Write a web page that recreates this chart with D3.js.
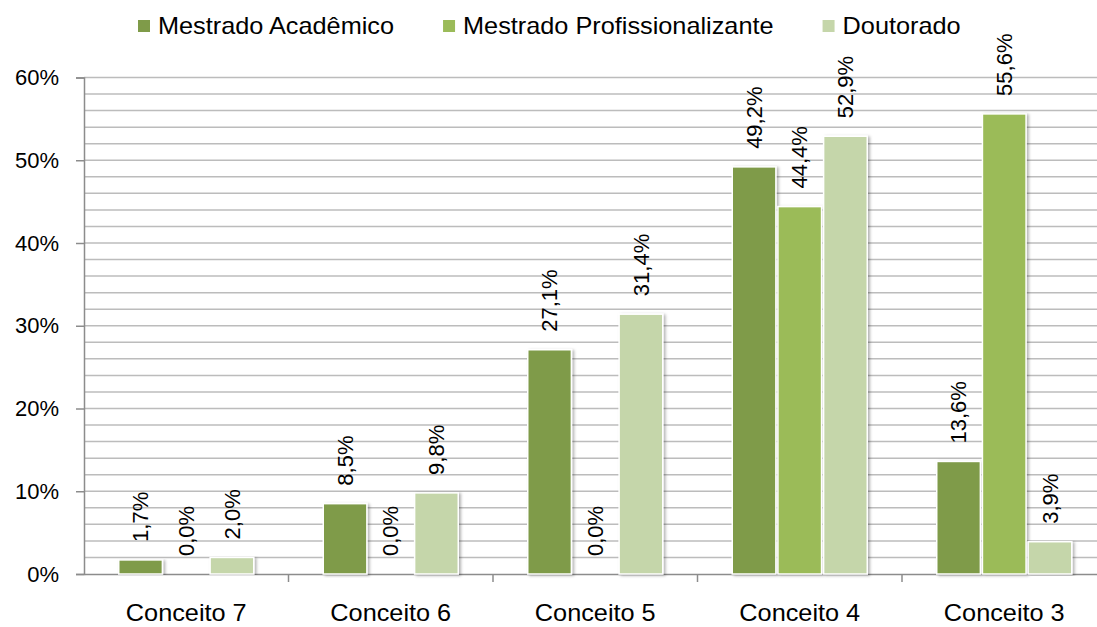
<!DOCTYPE html>
<html>
<head>
<meta charset="utf-8">
<script src="https://cdn.jsdelivr.net/npm/d3@7"></script>
<style>
  body { margin: 0; background: #fff; }
  text { font-family: "Liberation Sans", Arial, sans-serif; fill: #000; }
</style>
</head>
<body>
<div id="chart"></div>
<script>
// Data
var categories = ["Conceito 7", "Conceito 6", "Conceito 5", "Conceito 4", "Conceito 3"];
var seriesNames = ["Mestrado Acadêmico", "Mestrado Profissionalizante", "Doutorado"];
var mestradoAcademico = [1.7, 8.5, 27.1, 49.2, 13.6];
var mestradoProfissional = [0.0, 0.0, 0.0, 44.4, 55.6];
var doutorado = [2.0, 9.8, 31.4, 52.9, 3.9];
var yTicks = [0, 10, 20, 30, 40, 50, 60];

var seriesValues = [mestradoAcademico, mestradoProfissional, doutorado];
var colors = ["#7f9b49", "#9bbb59", "#c5d6aa"];

var width = 1097;
var height = 627;
var left = 84;
var catWidth = 204.5;
var yBottom = 574;
var yTop = 77.5;

var svg = d3.select("#chart")
    .append("svg")
    .attr("width", width)
    .attr("height", height);

// shadow for bars
var defs = svg.append("defs");
defs.append("filter")
    .attr("id", "shadow")
    .attr("x", "-20%").attr("y", "-5%")
    .attr("width", "140%").attr("height", "110%")
    .append("feDropShadow")
    .attr("dx", 2).attr("dy", 1)
    .attr("stdDeviation", 1.5)
    .attr("flood-color", "#000")
    .attr("flood-opacity", 0.3);

var scaleX = d3.scaleBand()
    .domain(categories)
    .range([left, left + catWidth * categories.length]);

var scaleY = d3.scaleLinear()
    .domain([0, 60])
    .range([yBottom, yTop]);

// inner scale for series inside a category
var groupWidth = 135;
var inner = d3.scaleBand()
    .domain(d3.range(seriesNames.length))
    .range([-groupWidth / 2, groupWidth / 2])
    .paddingInner(0.045);

// Gridlines every 2%
var gridVals = d3.range(2, 61, 2);
svg.append("g")
    .selectAll("line")
    .data(gridVals)
    .enter()
    .append("line")
    .attr("x1", left)
    .attr("x2", width)
    .attr("y1", function(d) { return scaleY(d); })
    .attr("y2", function(d) { return scaleY(d); })
    .attr("stroke", "#bcbcbc")
    .attr("stroke-width", 1.5);

// Y axis
var yAxis = d3.axisLeft(scaleY)
    .tickValues(yTicks)
    .tickSize(8)
    .tickPadding(17)
    .tickFormat(function(d) { return d + "%"; });

var yG = svg.append("g")
    .attr("transform", `translate(${left}, 0)`)
    .call(yAxis);
yG.select(".domain").attr("stroke", "#8c8c8c").attr("stroke-width", 1.5);
yG.selectAll(".tick line").attr("stroke", "#8c8c8c").attr("stroke-width", 1.5);
yG.selectAll(".tick text")
    .attr("font-size", "22px")
    .attr("font-family", "Liberation Sans, Arial, sans-serif")
    .attr("fill", "#000");

// X axis
var xAxis = d3.axisBottom(scaleX)
    .tickSize(0)
    .tickFormat("");

var xG = svg.append("g")
    .attr("transform", `translate(0, ${yBottom})`)
    .call(xAxis);
xG.select(".domain").attr("stroke", "#8c8c8c").attr("stroke-width", 1.5);

// category boundary ticks
xG.selectAll("line.sep")
    .data(categories.slice(1))
    .enter()
    .append("line")
    .attr("class", "sep")
    .attr("x1", function(d) { return scaleX(d); })
    .attr("x2", function(d) { return scaleX(d); })
    .attr("y1", 0)
    .attr("y2", 8)
    .attr("stroke", "#8c8c8c")
    .attr("stroke-width", 1.5);

// category labels
svg.append("g")
    .selectAll("text")
    .data(categories)
    .enter()
    .append("text")
    .attr("transform", function(d) {
        return `translate(${scaleX(d) + scaleX.bandwidth() / 2}, 621) scale(1.1, 1)`;
    })
    .attr("text-anchor", "middle")
    .attr("font-size", "23px")
    .text(function(d) { return d; });

// Bars
seriesValues.forEach(function(vals, s) {
    var g = svg.append("g").attr("class", "series" + s);

    g.selectAll("rect")
        .data(vals)
        .enter()
        .append("rect")
        .attr("x", function(d, i) {
            return scaleX(categories[i]) + scaleX.bandwidth() / 2 + inner(s);
        })
        .attr("y", function(d) { return scaleY(d); })
        .attr("width", inner.bandwidth())
        .attr("height", function(d) { return yBottom - scaleY(d); })
        .attr("fill", colors[s])
        .attr("stroke", "#fff")
        .attr("stroke-width", 1.5)
        .attr("filter", function(d) { return d > 0 ? "url(#shadow)" : null; });

    g.selectAll("text")
        .data(vals)
        .enter()
        .append("text")
        .attr("transform", function(d, i) {
            var cx = scaleX(categories[i]) + scaleX.bandwidth() / 2 + inner(s) + inner.bandwidth() / 2;
            return `translate(${cx}, ${scaleY(d) - 18}) rotate(-90)`;
        })
        .attr("dy", "0.35em")
        .attr("font-size", "22px")
        .text(function(d) { return d.toFixed(1).replace(".", ",") + "%"; });
});

// Legend
var legend = svg.append("g").attr("class", "legend");
var lx = 138;
seriesNames.forEach(function(name, s) {
    legend.append("rect")
        .attr("x", lx)
        .attr("y", 20)
        .attr("width", 12)
        .attr("height", 12)
        .attr("fill", colors[s]);
    var t = legend.append("text")
        .attr("transform", `translate(${lx + 20}, 34) scale(1.1, 1)`)
        .attr("font-size", "23px")
        .text(name);
    var w = t.node().getComputedTextLength() * 1.1;
    lx = lx + 20 + w + 49;
});
</script>
</body>
</html>
